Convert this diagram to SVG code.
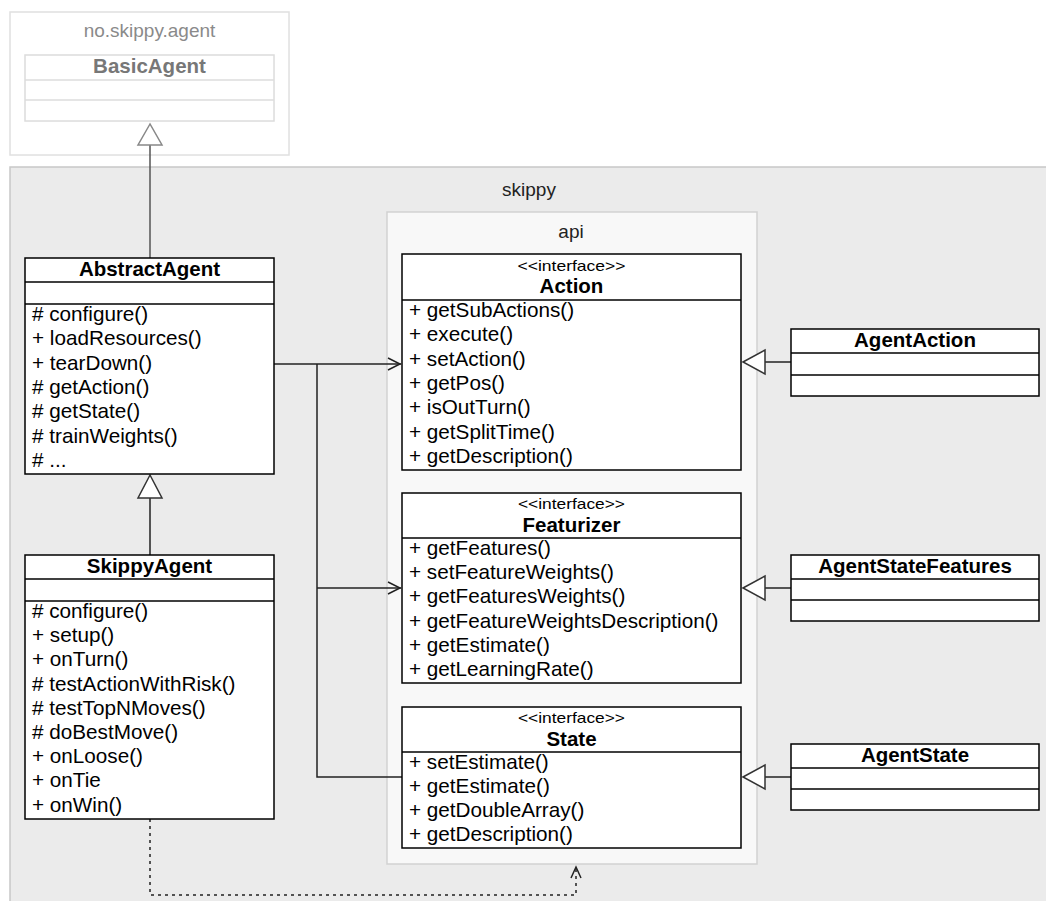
<svg xmlns="http://www.w3.org/2000/svg" width="1046" height="901" viewBox="0 0 1046 901">
<style>
.cls rect{fill:#fff;stroke:#000;stroke-width:1.5}
.cls line{stroke:#000;stroke-width:1.5}
.name{font-family:"Liberation Sans",Arial,sans-serif;font-weight:bold;font-size:20.5px;text-anchor:middle;fill:#000}
.mem{font-family:"Liberation Sans",Arial,sans-serif;font-size:20.7px;fill:#000}
.stereo{font-family:"Liberation Sans",Arial,sans-serif;font-size:15px;text-anchor:middle;fill:#000}
.pkg{font-family:"Liberation Sans",Arial,sans-serif;font-size:19px;text-anchor:middle;fill:#222}
.conn{fill:none;stroke:#222;stroke-width:1.5}
.tri{fill:#fff;stroke:#333;stroke-width:1.5}
</style>
<rect width="1046" height="901" fill="#fff"/>
<g id="pkg-no-skippy-agent">
<rect x="10" y="12" width="279" height="143" fill="#fff" stroke="#e0e0e0" stroke-width="1.5"/>
<text class="pkg" x="149.5" y="37" style="fill:#8a8a8a">no.skippy.agent</text>
</g>
<g id="BasicAgent">
<rect x="25" y="55" width="249" height="66" fill="#fff" stroke="#dcdcdc" stroke-width="1.5"/>
<line x1="25" y1="80" x2="274" y2="80" stroke="#dcdcdc" stroke-width="1.5"/>
<line x1="25" y1="100" x2="274" y2="100" stroke="#dcdcdc" stroke-width="1.5"/>
<text class="name" x="149.5" y="73" style="fill:#777">BasicAgent</text>
</g>
<g id="pkg-skippy">
<rect x="10" y="167" width="1046" height="745" fill="#ebebeb" stroke="#c8c8c8" stroke-width="1.5"/>
<text class="pkg" x="529" y="196">skippy</text>
</g>
<g id="pkg-api">
<rect x="387" y="212" width="370" height="652" fill="#f8f8f8" stroke="#d2d2d2" stroke-width="1.5"/>
<text class="pkg" x="571" y="238">api</text>
</g>
<g id="connectors">
<line class="conn" x1="150" y1="258" x2="150" y2="145" style="stroke:#555"/>
<polygon points="150,124 138,145 162,145" fill="#fff" stroke="#888" stroke-width="1.5"/>
<line class="conn" x1="150" y1="555" x2="150" y2="498"/>
<polygon class="tri" points="150,475 138,498 162,498"/>
<line class="conn" x1="791" y1="362" x2="765" y2="362"/>
<polygon class="tri" points="743,362 765,350 765,374"/>
<line class="conn" x1="791" y1="588" x2="765" y2="588"/>
<polygon class="tri" points="743,588 765,576 765,600"/>
<line class="conn" x1="791" y1="777" x2="765" y2="777"/>
<polygon class="tri" points="743,777 765,765 765,789"/>
<polyline class="conn" points="274,364 401,364"/>
<polyline class="conn" points="388,358 400,364 388,370"/>
<polyline class="conn" points="317,364 317,777 402,777"/>
<polyline class="conn" points="317,588 401,588"/>
<polyline class="conn" points="388,582 400,588 388,594"/>
<polyline class="conn" points="150,819 150,895 576,895 576,868" style="stroke-dasharray:3 4"/>
<polyline class="conn" points="571,878 576,867 581,878"/>
</g>
<g id="AbstractAgent" class="cls">
<rect x="25" y="258" width="249" height="216"/>
<line x1="25" y1="282" x2="274" y2="282"/>
<line x1="25" y1="304" x2="274" y2="304"/>
<text class="name" x="149.5" y="276">AbstractAgent</text>
<text class="mem" x="32" y="321"># configure()</text>
<text class="mem" x="32" y="345.3">+ loadResources()</text>
<text class="mem" x="32" y="369.6">+ tearDown()</text>
<text class="mem" x="32" y="393.9"># getAction()</text>
<text class="mem" x="32" y="418.2"># getState()</text>
<text class="mem" x="32" y="442.5"># trainWeights()</text>
<text class="mem" x="32" y="466.8"># ...</text>
</g>
<g id="SkippyAgent" class="cls">
<rect x="25" y="555" width="249" height="264"/>
<line x1="25" y1="579" x2="274" y2="579"/>
<line x1="25" y1="601" x2="274" y2="601"/>
<text class="name" x="149.5" y="573">SkippyAgent</text>
<text class="mem" x="32" y="618"># configure()</text>
<text class="mem" x="32" y="642.2">+ setup()</text>
<text class="mem" x="32" y="666.4">+ onTurn()</text>
<text class="mem" x="32" y="690.6"># testActionWithRisk()</text>
<text class="mem" x="32" y="714.8"># testTopNMoves()</text>
<text class="mem" x="32" y="739"># doBestMove()</text>
<text class="mem" x="32" y="763.2">+ onLoose()</text>
<text class="mem" x="32" y="787.4">+ onTie</text>
<text class="mem" x="32" y="811.6">+ onWin()</text>
</g>
<g id="Action" class="cls">
<rect x="402" y="254" width="339" height="216"/>
<line x1="402" y1="300" x2="741" y2="300"/>
<text class="stereo" x="571.5" y="271" textLength="108" lengthAdjust="spacingAndGlyphs">&lt;&lt;interface&gt;&gt;</text>
<text class="name" x="571.5" y="293">Action</text>
<text class="mem" x="409" y="317">+ getSubActions()</text>
<text class="mem" x="409" y="341.3">+ execute()</text>
<text class="mem" x="409" y="365.6">+ setAction()</text>
<text class="mem" x="409" y="389.9">+ getPos()</text>
<text class="mem" x="409" y="414.2">+ isOutTurn()</text>
<text class="mem" x="409" y="438.5">+ getSplitTime()</text>
<text class="mem" x="409" y="462.8">+ getDescription()</text>
</g>
<g id="Featurizer" class="cls">
<rect x="402" y="493" width="339" height="190"/>
<line x1="402" y1="538" x2="741" y2="538"/>
<text class="stereo" x="571.5" y="509" textLength="107" lengthAdjust="spacingAndGlyphs">&lt;&lt;interface&gt;&gt;</text>
<text class="name" x="571.5" y="531.5">Featurizer</text>
<text class="mem" x="409" y="555">+ getFeatures()</text>
<text class="mem" x="409" y="579.2">+ setFeatureWeights()</text>
<text class="mem" x="409" y="603.4">+ getFeaturesWeights()</text>
<text class="mem" x="409" y="627.6">+ getFeatureWeightsDescription()</text>
<text class="mem" x="409" y="651.8">+ getEstimate()</text>
<text class="mem" x="409" y="676">+ getLearningRate()</text>
</g>
<g id="State" class="cls">
<rect x="402" y="707" width="339" height="141"/>
<line x1="402" y1="752" x2="741" y2="752"/>
<text class="stereo" x="571.5" y="723" textLength="107" lengthAdjust="spacingAndGlyphs">&lt;&lt;interface&gt;&gt;</text>
<text class="name" x="571.5" y="745.5">State</text>
<text class="mem" x="409" y="769">+ setEstimate()</text>
<text class="mem" x="409" y="793">+ getEstimate()</text>
<text class="mem" x="409" y="817">+ getDoubleArray()</text>
<text class="mem" x="409" y="841">+ getDescription()</text>
</g>
<g id="AgentAction" class="cls">
<rect x="791" y="329" width="248" height="67"/>
<line x1="791" y1="353" x2="1039" y2="353"/>
<line x1="791" y1="375" x2="1039" y2="375"/>
<text class="name" x="915" y="347">AgentAction</text>
</g>
<g id="AgentStateFeatures" class="cls">
<rect x="791" y="555" width="248" height="66"/>
<line x1="791" y1="579" x2="1039" y2="579"/>
<line x1="791" y1="600" x2="1039" y2="600"/>
<text class="name" x="915" y="573">AgentStateFeatures</text>
</g>
<g id="AgentState" class="cls">
<rect x="791" y="744" width="248" height="66"/>
<line x1="791" y1="768" x2="1039" y2="768"/>
<line x1="791" y1="789" x2="1039" y2="789"/>
<text class="name" x="915" y="762">AgentState</text>
</g>
</svg>
